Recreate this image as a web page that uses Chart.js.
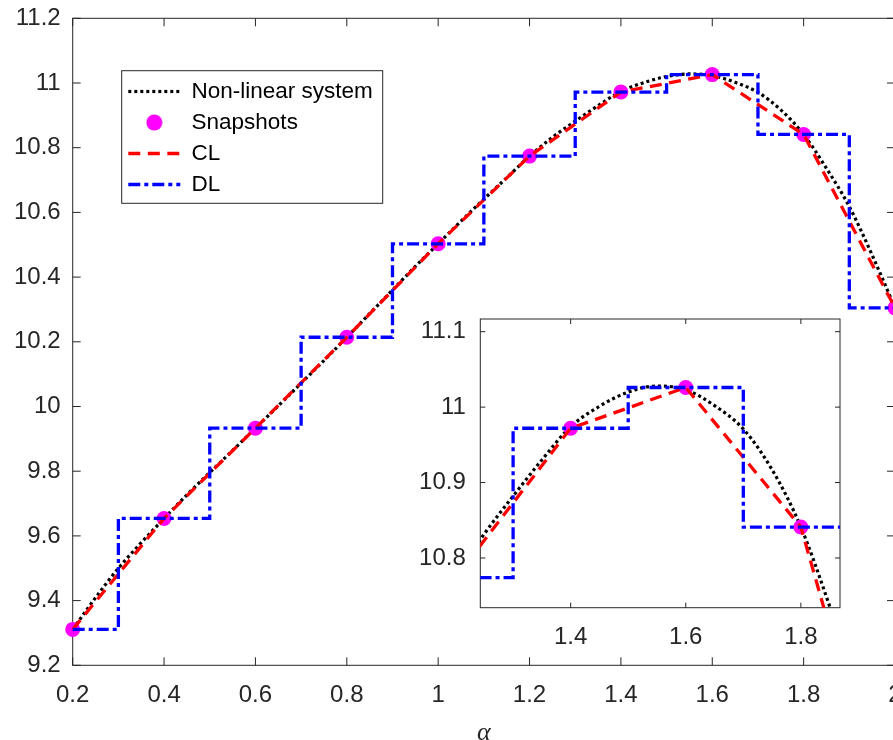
<!DOCTYPE html>
<html><head><meta charset="utf-8">
<script src="https://cdn.jsdelivr.net/npm/chart.js@4.4.1/dist/chart.umd.min.js"></script>
<style>
html,body{margin:0;padding:0;background:#fff;overflow:hidden;}
#wrap{position:relative;width:893px;height:740px;overflow:hidden;background:#fff;}
#main{position:absolute;left:0;top:0;width:903px;height:746px;}
#inset{position:absolute;left:400px;top:300px;width:450px;height:360px;}
</style></head><body>
<div id="wrap"><canvas id="main" width="903" height="746"></canvas><canvas id="inset" width="450" height="360"></canvas></div>
<script>
// ---- data ----
const snapAlpha = [0.2, 0.4, 0.6, 0.8, 1.0, 1.2, 1.4, 1.6, 1.8, 2.0];
const snapshots = [9.311, 9.654, 9.933, 10.214, 10.503, 10.774, 10.972, 11.026, 10.841, 10.305];
const clValues  = [9.311, 9.654, 9.933, 10.214, 10.503, 10.774, 10.972, 11.026, 10.841, 10.305];
const dlValues  = [9.311, 9.654, 9.933, 10.214, 10.503, 10.774, 10.972, 11.026, 10.841, 10.305];
const nlAlpha = [0.2,0.25,0.3,0.35,0.4,0.45,0.5,0.55,0.6,0.65,0.7,0.75,0.8,0.85,0.9,0.95,1.0,1.05,1.1,1.15,1.2,1.25,1.3,1.35,1.4,1.45,1.5,1.55,1.6,1.65,1.7,1.75,1.8,1.85,1.9,1.95,2.0];
const nlValues = [9.311,9.409,9.500,9.579,9.654,9.727,9.796,9.864,9.933,10.002,10.072,10.142,10.214,10.287,10.360,10.433,10.503,10.573,10.641,10.707,10.774,10.832,10.882,10.930,10.974,11.001,11.020,11.028,11.023,11.002,10.971,10.917,10.841,10.736,10.618,10.468,10.305];
const seriesNames = ['Non-linear system', 'Snapshots', 'CL', 'DL'];
const xTicks = [0.2, 0.4, 0.6, 0.8, 1, 1.2, 1.4, 1.6, 1.8, 2];
const yTicks = [9.2, 9.4, 9.6, 9.8, 10, 10.2, 10.4, 10.6, 10.8, 11, 11.2];
const insetXTicks = [1.4, 1.6, 1.8];
const insetYTicks = [10.8, 10.9, 11, 11.1];
const xTitle = 'α';

const AX = '#262626';
const FONT = "'Liberation Sans', Arial, sans-serif";

const pts = (xs, ys) => xs.map((x, i) => ({x: x, y: ys[i]}));

function makeDatasets(clip) {
  return [
    {label: seriesNames[0], data: pts(nlAlpha, nlValues), borderColor: '#000000', backgroundColor: '#000000',
     borderWidth: 3.2, borderDash: [3, 3], pointRadius: 0, cubicInterpolationMode: 'monotone', order: 3, clip: clip},
    {label: seriesNames[1], data: pts(snapAlpha, snapshots), showLine: false, pointRadius: 7.5, pointHoverRadius: 7.5,
     pointBackgroundColor: '#ff00ff', pointBorderWidth: 0, borderColor: '#ff00ff', backgroundColor: '#ff00ff', order: 2, clip: clip},
    {label: seriesNames[2], data: pts(snapAlpha, clValues), borderColor: '#ff0000', backgroundColor: '#ff0000',
     borderWidth: 3.3, borderDash: [12, 7.5], pointRadius: 0, tension: 0, order: 1, clip: clip},
    {label: seriesNames[3], data: pts(snapAlpha, dlValues), borderColor: '#0000ff', backgroundColor: '#0000ff',
     borderWidth: 3.3, borderDash: [12, 4, 4, 4], pointRadius: 0, stepped: 'middle', order: 0, clip: clip}
  ];
}

// frame with inward ticks, MATLAB style
const framePlugin = {
  id: 'axesFrame',
  beforeDatasetsDraw(chart, args, o) {
    const {ctx, chartArea: a, scales} = chart;
    ctx.save();
    if (o.bg) { ctx.fillStyle = o.bg; ctx.fillRect(a.left, a.top, a.right - a.left, a.bottom - a.top); }
    ctx.strokeStyle = o.color; ctx.lineWidth = o.width;
    ctx.strokeRect(a.left, a.top, a.right - a.left, a.bottom - a.top);
    const L = o.tickLength;
    ctx.beginPath();
    scales.x.ticks.forEach(t => {
      const p = scales.x.getPixelForValue(t.value);
      ctx.moveTo(p, a.bottom); ctx.lineTo(p, a.bottom - L);
      ctx.moveTo(p, a.top); ctx.lineTo(p, a.top + L);
    });
    scales.y.ticks.forEach(t => {
      const p = scales.y.getPixelForValue(t.value);
      ctx.moveTo(a.left, p); ctx.lineTo(a.left + L, p);
      ctx.moveTo(a.right, p); ctx.lineTo(a.right - L, p);
    });
    ctx.stroke();
    ctx.restore();
  }
};

// legend placement + box
const legendPlace = {
  id: 'legendPlace',
  beforeDraw(chart, args, o) {
    const lg = chart.legend;
    if (!lg) return;
    lg.left = o.left; lg.top = o.top; lg.right = o.right; lg.bottom = o.bottom;
    lg.width = o.right - o.left; lg.height = o.bottom - o.top;
    const ctx = chart.ctx;
    ctx.save();
    ctx.fillStyle = '#ffffff'; ctx.strokeStyle = AX; ctx.lineWidth = 1;
    const f = o.frame;
    ctx.fillRect(f[0], f[1], f[2] - f[0], f[3] - f[1]);
    ctx.strokeRect(f[0], f[1], f[2] - f[0], f[3] - f[1]);
    ctx.restore();
  }
};

const marker = document.createElement('canvas');
marker.width = 17; marker.height = 17;
(function () { const m = marker.getContext('2d'); m.fillStyle = '#ff00ff'; m.beginPath(); m.arc(8.5, 8.5, 8, 0, Math.PI * 2); m.fill(); })();

function tickFont() { return {family: FONT, size: 24}; }
function fixX(h) { return s => { s.height = h; s.paddingLeft = 0; s.paddingRight = 0; s.paddingTop = 0; s.paddingBottom = 0; }; }
function fixY(w) { return s => { s.width = w; s.paddingLeft = 0; s.paddingRight = 0; s.paddingTop = 0; s.paddingBottom = 0; }; }

new Chart(document.getElementById('main'), {
  type: 'line',
  data: {datasets: makeDatasets(false)},
  plugins: [framePlugin, legendPlace],
  options: {
    responsive: false, animation: false, devicePixelRatio: 1,
    layout: {padding: {left: 0, top: 18.3, right: 8, bottom: 0}, autoPadding: false},
    scales: {
      x: {type: 'linear', min: 0.2, max: 2,
          afterBuildTicks: s => { s.ticks = xTicks.map(v => ({value: v})); },
          afterFit: fixX(80.7),
          grid: {display: false, drawTicks: false}, border: {display: false},
          ticks: {font: tickFont(), color: AX, padding: 15.3, maxRotation: 0, autoSkip: false, callback: v => String(v)},
          title: {display: true, text: xTitle, color: AX, font: {family: "'Liberation Serif', 'Times New Roman', serif", size: 26, style: 'italic'}, padding: {top: 0, bottom: -3}}
      },
      y: {type: 'linear', min: 9.2, max: 11.2,
          afterBuildTicks: s => { s.ticks = yTicks.map(v => ({value: v})); },
          afterFit: fixY(72.7),
          grid: {display: false, drawTicks: false}, border: {display: false},
          ticks: {font: tickFont(), color: AX, padding: 12, autoSkip: false, callback: v => String(v)}
      }
    },
    plugins: {
      tooltip: {enabled: false},
      axesFrame: {color: AX, width: 1, tickLength: 8},
      legendPlace: {left: 119.8, top: 71.75, right: 383, bottom: 230, frame: [121.7, 70.7, 382.7, 203.3]},
      legend: {
        display: true, position: 'chartArea', align: 'start',
        labels: {
          usePointStyle: true, pointStyleWidth: 52, padding: 8.5, color: '#000000',
          font: {family: FONT, size: 22.5},
          generateLabels: chart => chart.data.datasets.map((ds, i) => ({
            text: ds.label, datasetIndex: i, hidden: false,
            fillStyle: ds.borderColor, strokeStyle: ds.borderColor,
            lineWidth: ds.showLine === false ? 0 : ds.borderWidth,
            lineDash: ds.borderDash || [], lineCap: 'butt',
            pointStyle: ds.showLine === false ? marker : 'line'
          }))
        }
      }
    }
  }
});

new Chart(document.getElementById('inset'), {
  type: 'line',
  data: {datasets: makeDatasets(undefined)},
  plugins: [framePlugin],
  options: {
    responsive: false, animation: false, devicePixelRatio: 1,
    layout: {padding: {left: 0, top: 19, right: 10, bottom: 0}, autoPadding: false},
    scales: {
      x: {type: 'linear', min: 1.243, max: 1.868,
          afterBuildTicks: s => { s.ticks = insetXTicks.map(v => ({value: v})); },
          afterFit: fixX(52.3),
          grid: {display: false, drawTicks: false}, border: {display: false},
          ticks: {font: tickFont(), color: AX, padding: 15.4, maxRotation: 0, autoSkip: false, callback: v => String(v)}
      },
      y: {type: 'linear', min: 10.7341, max: 11.1168,
          afterBuildTicks: s => { s.ticks = insetYTicks.map(v => ({value: v})); },
          afterFit: fixY(80.3),
          grid: {display: false, drawTicks: false}, border: {display: false},
          ticks: {font: tickFont(), color: AX, padding: 14.5, autoSkip: false, callback: v => String(v)}
      }
    },
    plugins: {
      tooltip: {enabled: false},
      legend: {display: false},
      axesFrame: {color: AX, width: 1, tickLength: 5, bg: '#ffffff'}
    }
  }
});
</script>
</body></html>
